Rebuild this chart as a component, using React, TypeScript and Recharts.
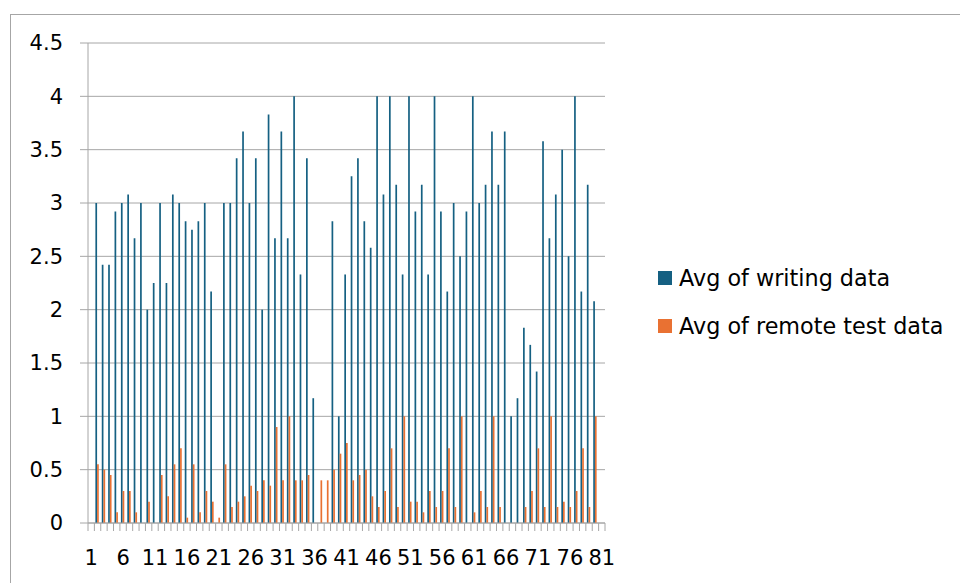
import { BarChart, Bar, XAxis, YAxis, CartesianGrid } from 'recharts'

// category labels (pivot row labels)
const categories = [
  1, 2, 3, 4, 5, 6, 7, 8, 9, 10, 11, 12, 13, 14, 15, 16, 17, 18, 19, 20,
  21, 22, 23, 24, 25, 26, 27, 28, 29, 30, 31, 32, 33, 34, 35, 36, 37, 38, 39, 40,
  41, 42, 43, 44, 45, 46, 47, 48, 49, 50, 51, 52, 53, 54, 55, 56, 57, 58, 59, 60,
  61, 62, 63, 64, 65, 66, 67, 68, 69, 70, 71, 72, 73, 74, 75, 76, 77, 78, 79, 80,
  81,
]

const writingAvg: (number | null)[] = [
  null, 3.0, 2.42, 2.42, 2.92, 3.0, 3.08, 2.67, 3.0, 2.0,
  2.25, 3.0, 2.25, 3.08, 3.0, 2.83, 2.75, 2.83, 3.0, 2.17,
  null, 3.0, 3.0, 3.42, 3.67, 3.0, 3.42, 2.0, 3.83, 2.67,
  3.67, 2.67, 4.0, 2.33, 3.42, 1.17, null, null, 2.83, 1.0,
  2.33, 3.25, 3.42, 2.83, 2.58, 4.0, 3.08, 4.0, 3.17, 2.33,
  4.0, 2.92, 3.17, 2.33, 4.0, 2.92, 2.17, 3.0, 2.5, 2.92,
  4.0, 3.0, 3.17, 3.67, 3.17, 3.67, 1.0, 1.17, 1.83, 1.67,
  1.42, 3.58, 2.67, 3.08, 3.5, 2.5, 4.0, 2.17, 3.17, 2.08,
  null,
]

const remoteAvg: (number | null)[] = [
  null, 0.55, 0.5, 0.45, 0.1, 0.3, 0.3, 0.1, null, 0.2,
  null, 0.45, 0.25, 0.55, 0.7, 0.05, 0.55, 0.1, 0.3, 0.2,
  0.05, 0.55, 0.15, 0.2, 0.25, 0.35, 0.3, 0.4, 0.35, 0.9,
  0.4, 1.0, 0.4, 0.4, 0.45, null, 0.4, 0.4, 0.5, 0.65,
  0.75, 0.4, 0.45, 0.5, 0.25, 0.15, 0.3, 0.7, 0.15, 1.0,
  0.2, 0.2, 0.1, 0.3, 0.15, 0.3, 0.7, 0.15, 1.0, null,
  0.1, 0.3, 0.15, 1.0, 0.15, null, null, null, 0.15, 0.3,
  0.7, 0.15, 1.0, 0.15, 0.2, 0.15, 0.3, 0.7, 0.15, 1.0,
  null,
]

const yTicks = [0, 0.5, 1, 1.5, 2, 2.5, 3, 3.5, 4, 4.5]

const series = [
  { key: 'writing', name: 'Avg of writing data', color: '#156082' },
  { key: 'remote', name: 'Avg of remote test data', color: '#E97132' },
]

const data = categories.map((cat, i) => ({
  cat,
  writing: writingAvg[i],
  remote: remoteAvg[i],
}))

const W = 960
const H = 583
const PLOT_LEFT = 88
const PLOT_RIGHT = 605
const PLOT_TOP = 43
const PLOT_BOTTOM = 523
const BAND = (PLOT_RIGHT - PLOT_LEFT) / categories.length
const LINE = '#a6a6a6'
const FONT = '"DejaVu Sans", sans-serif'

// excel style: tick marks between categories, label every 5th
function CategoryTick(props: any) {
  const { x, payload } = props
  const i = categories.indexOf(payload.value)
  const left = x - BAND / 2
  return (
    <g>
      <line x1={left} x2={left} y1={PLOT_BOTTOM} y2={PLOT_BOTTOM + 8} stroke={LINE} />
      {i === categories.length - 1 && (
        <line x1={x + BAND / 2} x2={x + BAND / 2} y1={PLOT_BOTTOM} y2={PLOT_BOTTOM + 8} stroke={LINE} />
      )}
      {i % 5 === 0 && (
        <text x={x} y={PLOT_BOTTOM + 42} textAnchor="middle" fontSize={21} fill="#000" fontFamily={FONT}>
          {payload.value}
        </text>
      )}
    </g>
  )
}

export default function App() {
  return (
    <div
      style={{
        position: 'fixed',
        left: 0,
        top: 0,
        width: W,
        height: H,
        overflow: 'hidden',
        background: '#fff',
        fontFamily: FONT,
      }}
    >
      <div
        style={{
          position: 'absolute',
          left: 10,
          top: 14,
          width: W,
          height: H,
          border: `1px solid ${LINE}`,
        }}
      />
      <div style={{ position: 'absolute', left: 0, top: 0 }}>
        <BarChart
          width={W}
          height={H}
          data={data}
          barGap={0}
          barSize={1.7}
          margin={{ top: PLOT_TOP, right: W - PLOT_RIGHT, bottom: 0, left: 0 }}
        >
          <CartesianGrid vertical={false} stroke={LINE} />
          <XAxis
            dataKey="cat"
            interval={0}
            height={H - PLOT_BOTTOM}
            tickSize={0}
            tickMargin={0}
            tickLine={false}
            axisLine={{ stroke: LINE }}
            tick={CategoryTick}
          />
          <YAxis
            width={PLOT_LEFT}
            domain={[0, 4.5]}
            ticks={yTicks}
            interval={0}
            tickSize={8}
            tickMargin={17}
            axisLine={{ stroke: LINE }}
            tickLine={{ stroke: LINE }}
            tick={{ fontSize: 21, fill: '#000', fontFamily: FONT }}
          />
          {series.map((s) => (
            <Bar key={s.key} dataKey={s.key} name={s.name} fill={s.color} isAnimationActive={false} />
          ))}
        </BarChart>
      </div>
      {series.map((s, i) => (
        <div
          key={s.key}
          style={{
            position: 'absolute',
            left: 658,
            top: 265.5 + i * 48.5,
            height: 24,
            display: 'flex',
            alignItems: 'center',
            whiteSpace: 'nowrap',
          }}
        >
          <span style={{ width: 14, height: 14, background: s.color, marginRight: 7 }} />
          <span style={{ fontSize: 22.3, color: '#000', lineHeight: '24px' }}>{s.name}</span>
        </div>
      ))}
    </div>
  )
}
